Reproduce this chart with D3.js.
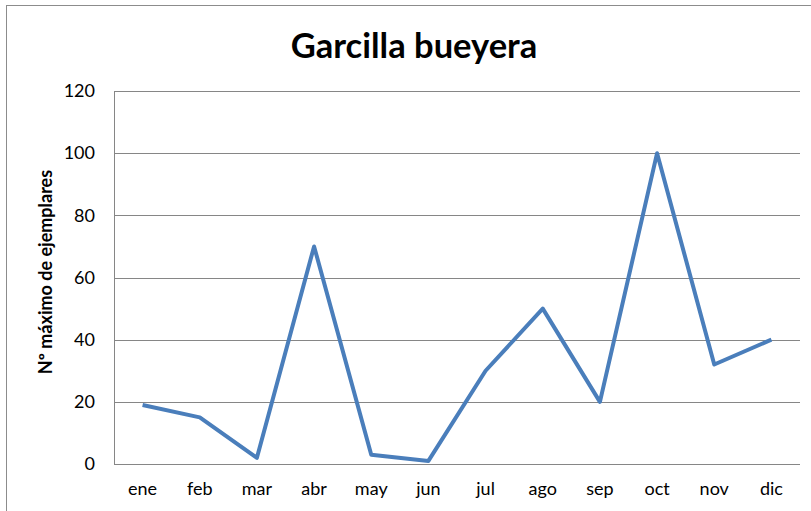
<!DOCTYPE html>
<html><head><meta charset="utf-8">
<script src="https://cdn.jsdelivr.net/npm/d3@7"></script>
<style>body{margin:0;background:#fff}svg{display:block}text{font-family:Lato,"Open Sans",sans-serif;fill:#000}</style>
</head><body><svg id="c" width="811" height="511"></svg>
<script>
const months = ["ene","feb","mar","abr","may","jun","jul","ago","sep","oct","nov","dic"];
const counts = [19,15,2,70,3,1,30,50,20,100,32,40];
const yTicks = [0,20,40,60,80,100,120];
const title = "Garcilla bueyera";
const yLabel = "Nº máximo de ejemplares";

const svg = d3.select("#c");
svg.append("rect").attr("x",6.5).attr("y",5.5).attr("width",820).attr("height",520)
  .attr("fill","#fff").attr("stroke","#8c8c8c").attr("stroke-width",1);

const L=114, R=800, T=91, B=464;
const x = d3.scaleBand().domain(months).range([L,R]);
const y = d3.scaleLinear().domain([0,120]).range([B,T]);

const grid = svg.append("g");
grid.selectAll("line").data(yTicks).join("line")
  .attr("x1",L).attr("x2",R).attr("y1",d=>Math.round(y(d))+0.5).attr("y2",d=>Math.round(y(d))+0.5)
  .attr("stroke","#868686").attr("stroke-width",1);
svg.append("line").attr("x1",L+0.5).attr("x2",L+0.5).attr("y1",T).attr("y2",B+0.5)
  .attr("stroke","#868686");

const yAxis = svg.append("g").attr("transform",`translate(${L},0)`)
  .call(d3.axisLeft(y).tickValues(yTicks).tickSize(0).tickPadding(19));
yAxis.select(".domain").remove();
yAxis.selectAll("text").style("font-size","18px").style("font-family","Lato");

const xAxis = svg.append("g").attr("transform",`translate(0,${B})`)
  .call(d3.axisBottom(x).tickSize(0).tickPadding(18));
xAxis.select(".domain").remove();
xAxis.selectAll("text").style("font-size","18px").style("font-family","Lato");

svg.append("path").datum(counts)
  .attr("d", d3.line().x((d,i)=>x(months[i])+x.bandwidth()/2).y(d=>y(d)))
  .attr("fill","none").attr("stroke","#4A7EBB").attr("stroke-width",4).attr("stroke-linejoin","round");

svg.append("text").attr("x",414).attr("y",58).attr("text-anchor","middle")
  .style("font-size","34.5px").style("font-weight","bold").text(title);

svg.append("text").attr("transform","translate(52,272) rotate(-90)").attr("text-anchor","middle")
  .style("font-size","18px").style("font-weight","bold").text(yLabel);
</script></body></html>
